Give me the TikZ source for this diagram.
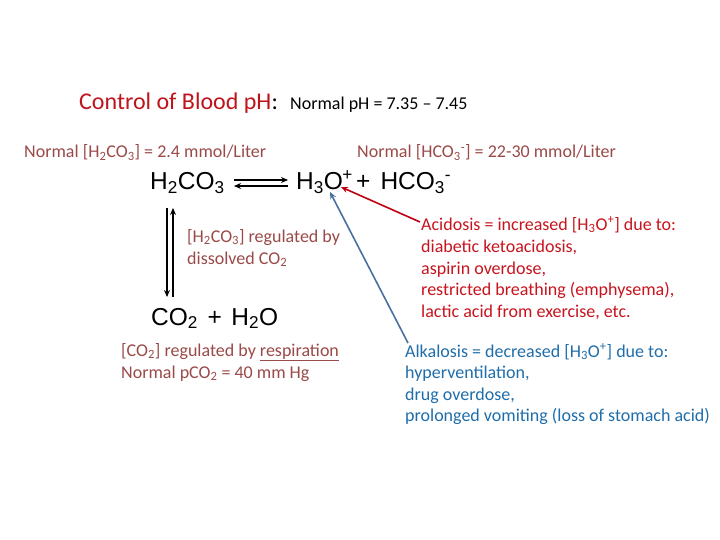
\documentclass[tikz,border=0pt]{standalone}
\usepackage{fontspec}
\setmainfont{Carlito}
\newfontfamily\eqfont{Liberation Sans}
\usetikzlibrary{arrows.meta}
\definecolor{titlered}{HTML}{C0141C}
\definecolor{normbrown}{HTML}{9A4A48}
\definecolor{acidred}{HTML}{C8141E}
\definecolor{alkblue}{HTML}{1F6EAA}
\definecolor{lineblue}{HTML}{4A70A0}
\definecolor{linered}{HTML}{C00010}
\begin{document}
\begin{tikzpicture}[x=1pt,y=-1pt,
  every node/.style={inner sep=0pt,anchor=base west},
  titletxt/.style={font=\fontsize{24}{28}\selectfont,text=titlered},
  lbl/.style={font=\fontsize{18}{21}\selectfont},
  brownlbl/.style={lbl,text=normbrown},
  acidlbl/.style={lbl,text=acidred},
  alklbl/.style={lbl,text=alkblue},
  eqtxt/.style={font=\eqfont\fontsize{24.5}{28}\selectfont},
  eqarrow/.style={line width=1.6pt,-{Stealth[length=7pt,width=6pt]}},
  bluearrow/.style={draw=lineblue,line width=1.6pt,-{Stealth[length=7pt,width=6pt]}},
  redarrow/.style={draw=linered,line width=1.6pt,-{Stealth[length=7pt,width=6pt]}}
]
\useasboundingbox (0,0) rectangle (720,540);
\fill[white] (0,0) rectangle (720,540);

\node[titletxt] (title) at (79,110) {Control of Blood pH\textcolor{black}{:}};
\node[lbl] (normph) at (290,110) {Normal pH = 7.35 -- 7.45};

\node[brownlbl] (n1) at (24,158) {Normal [H\textsubscript{2}CO\textsubscript{3}] = 2.4 mmol/Liter};
\node[brownlbl] (n2) at (357,158) {Normal [HCO\textsubscript{3}\textsuperscript{-}] = 22-30 mmol/Liter};

\node[eqtxt] (h2co3) at (150,190) {H\textsubscript{2}CO\textsubscript{3}};
\node[eqtxt] (h3o) at (296,190) {H\textsubscript{3}O\kern-0.5pt\textsuperscript{+}};
\node[eqtxt] (hco3) at (356,190) {+\kern10pt HCO\textsubscript{3}\textsuperscript{-}};
\node[eqtxt] (co2) at (151,325) {CO\textsubscript{2}\kern9.6pt+\kern9.6pt H\textsubscript{2}O};

\node[brownlbl] (r1) at (187,242) {[H\textsubscript{2}CO\textsubscript{3}] regulated by};
\node[brownlbl] (r2) at (187,264) {dissolved CO\textsubscript{2}};

\node[brownlbl] (c1) at (121,356) {[CO\textsubscript{2}] regulated by \underline{respiration}};
\node[brownlbl] (c2) at (121,378) {Normal pCO\textsubscript{2} = 40 mm Hg};

\node[acidlbl] (a1) at (421,230) {Acidosis = increased [H\textsubscript{3}O\textsuperscript{+}] due to:};
\node[acidlbl] (a2) at (421,252) {diabetic ketoacidosis,};
\node[acidlbl] (a3) at (421,274) {aspirin overdose,};
\node[acidlbl] (a4) at (421,295) {restricted breathing (emphysema),};
\node[acidlbl] (a5) at (421,317) {lactic acid from exercise, etc.};

\node[alklbl] (k1) at (405,357) {Alkalosis = decreased [H\textsubscript{3}O\textsuperscript{+}] due to:};
\node[alklbl] (k2) at (405,378) {hyperventilation,};
\node[alklbl] (k3) at (405,400) {drug overdose,};
\node[alklbl] (k4) at (405,421) {prolonged vomiting (loss of stomach acid)};

% equilibrium arrows
\coordinate (eqa) at (234,180);
\coordinate (eqb) at (288,180);
\coordinate (eqc) at (288,186);
\coordinate (eqd) at (234,186);
\draw[eqarrow] (eqa) -- (eqb);
\draw[eqarrow] (eqc) -- (eqd);

% vertical arrows
\coordinate (vda) at (167,208);
\coordinate (vdb) at (167,297);
\coordinate (vua) at (173,297);
\coordinate (vub) at (173,208);
\draw[eqarrow] (vda) -- (vdb);
\draw[eqarrow] (vua) -- (vub);

% pointers to H3O+
\coordinate (blueend) at (330,192);
\coordinate (redend) at (341,187);
\coordinate (bluestart) at (408,343);
\coordinate (redstart) at (420,222);
\draw[bluearrow] (bluestart) -- (blueend);
\draw[redarrow] (redstart) -- (redend);
\end{tikzpicture}
\end{document}
